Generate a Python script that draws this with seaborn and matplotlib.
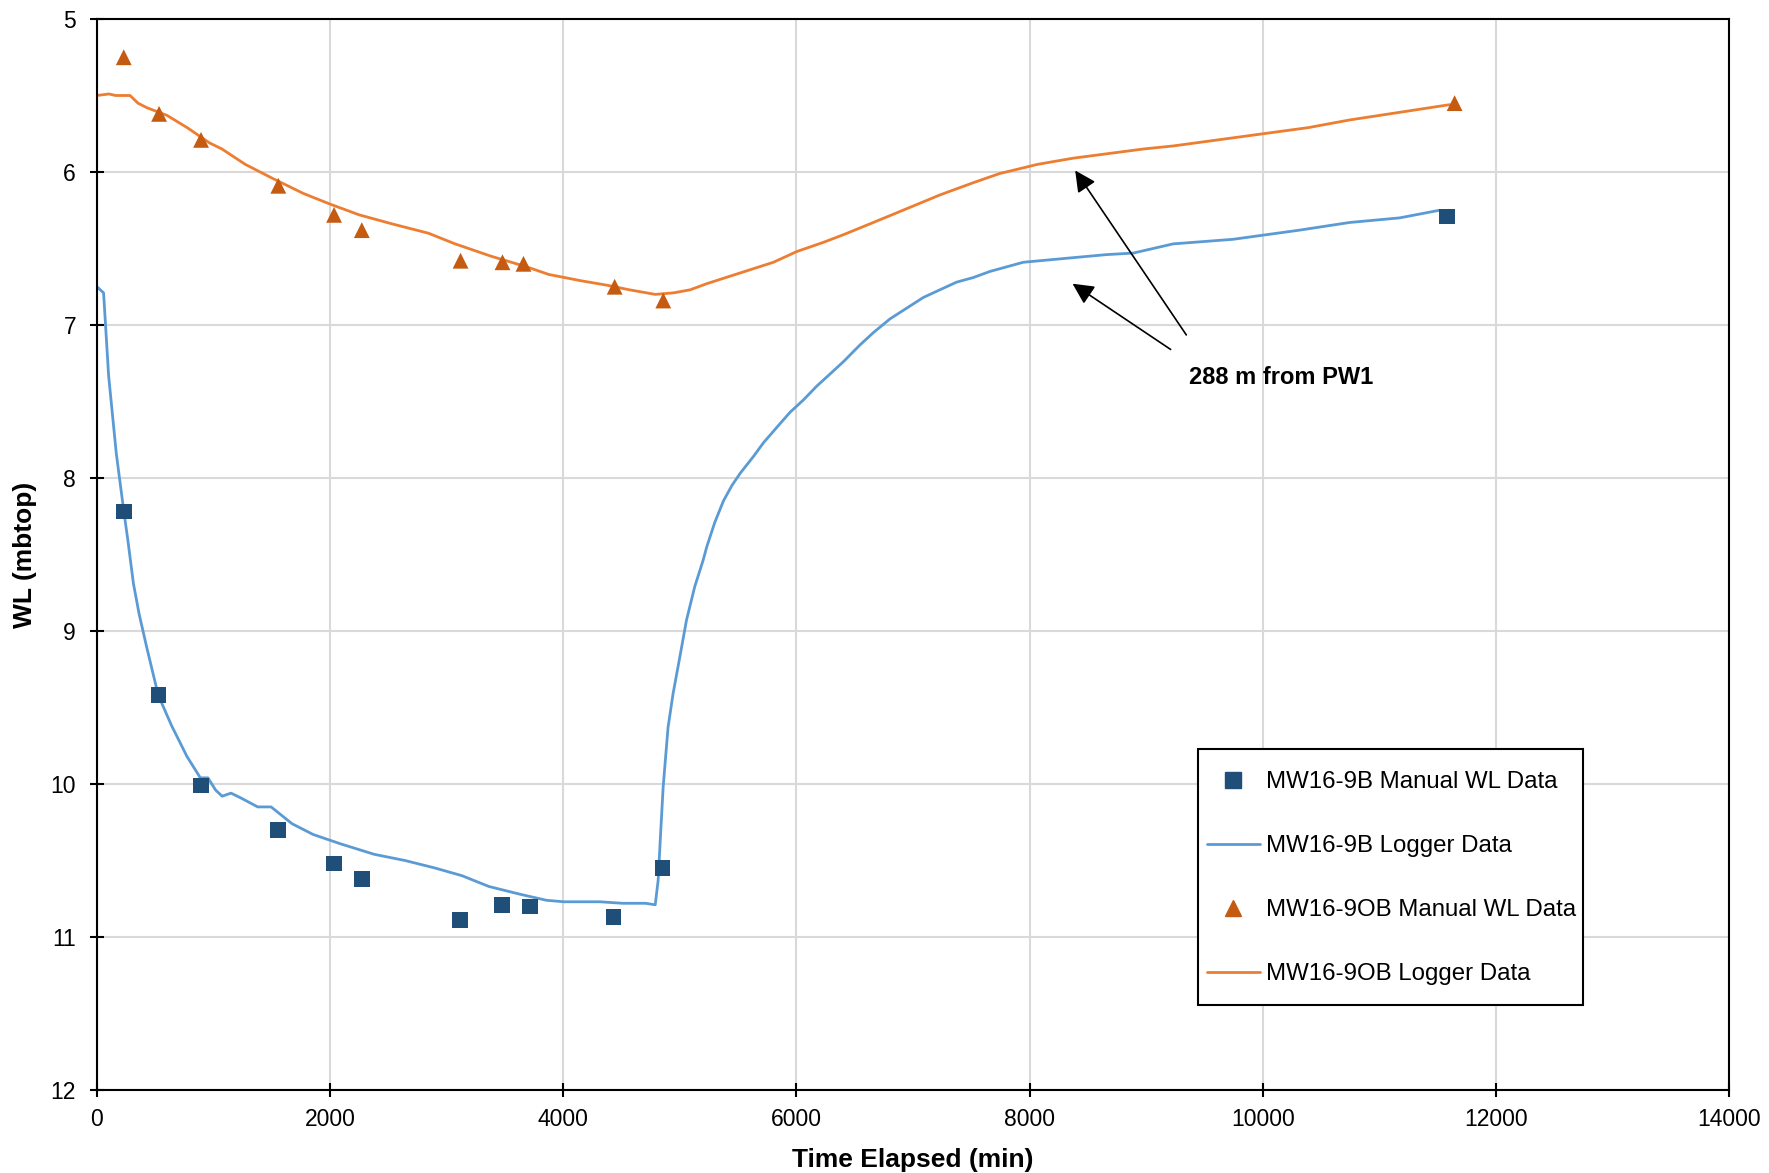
import matplotlib
matplotlib.use("Agg")
import matplotlib.pyplot as plt
import matplotlib.lines as mlines
from matplotlib.patches import Rectangle
import seaborn as sns

# MW16-9B logger record (time in min, water level in mbtop)
b_log_t = [0, 57, 100, 166, 231, 264, 313, 362, 428, 526, 641, 772, 887, 952, 1018, 1074,
           1150, 1231, 1379, 1494, 1674, 1854, 2084, 2379, 2641, 2903, 3133, 3362, 3625,
           3854, 4002, 4313, 4510, 4707, 4789, 4814, 4834, 4857, 4899, 4942, 5000, 5057,
           5128, 5199, 5231, 5300, 5374, 5446, 5517, 5631, 5717, 5831, 5946, 6060, 6174,
           6289, 6403, 6546, 6660, 6803, 6946, 7089, 7231, 7374, 7517, 7660, 7803, 7946,
           8089, 8374, 8660, 8889, 9117, 9230, 9745, 10316, 10745, 11174, 11517]
b_log_wl = [6.75, 6.79, 7.33, 7.84, 8.22, 8.40, 8.69, 8.89, 9.11, 9.42, 9.62, 9.82, 9.96,
            9.96, 10.04, 10.08, 10.06, 10.09, 10.15, 10.15, 10.26, 10.33, 10.39, 10.46,
            10.50, 10.55, 10.60, 10.67, 10.72, 10.76, 10.77, 10.77, 10.78, 10.78, 10.79,
            10.63, 10.34, 10.02, 9.63, 9.41, 9.17, 8.93, 8.71, 8.54, 8.45, 8.29, 8.15, 8.05,
            7.97, 7.86, 7.77, 7.67, 7.57, 7.49, 7.40, 7.32, 7.24, 7.13, 7.05, 6.96, 6.89,
            6.82, 6.77, 6.72, 6.69, 6.65, 6.62, 6.59, 6.58, 6.56, 6.54, 6.53, 6.49, 6.47,
            6.44, 6.38, 6.33, 6.30, 6.25]

# MW16-9OB logger record
ob_log_t = [0, 103, 161, 218, 284, 352, 429, 601, 774, 966, 1073, 1272, 1502, 1770, 2000,
            2249, 2536, 2843, 3073, 3379, 3686, 3877, 4146, 4375, 4567, 4789, 4946, 5089,
            5231, 5517, 5803, 6003, 6231, 6403, 6660, 6946, 7231, 7517, 7744, 8069, 8372,
            8973, 9230, 9617, 10004, 10391, 10745, 11174, 11603]
ob_log_wl = [5.50, 5.49, 5.50, 5.50, 5.50, 5.55, 5.58, 5.63, 5.71, 5.81, 5.85, 5.95, 6.04,
             6.14, 6.21, 6.28, 6.34, 6.40, 6.47, 6.55, 6.62, 6.67, 6.71, 6.74, 6.77, 6.80,
             6.79, 6.77, 6.73, 6.66, 6.59, 6.52, 6.46, 6.41, 6.33, 6.24, 6.15, 6.07, 6.01,
             5.95, 5.91, 5.85, 5.83, 5.79, 5.75, 5.71, 5.66, 5.61, 5.56]

# manual readings
b_man_t = [231, 529, 893, 1552, 2031, 2271, 3113, 3474, 3716, 4431, 4851, 11583]
b_man_wl = [8.22, 9.42, 10.01, 10.30, 10.52, 10.62, 10.89, 10.79, 10.80, 10.87, 10.55, 6.29]
ob_man_t = [230, 533, 893, 1556, 2034, 2272, 3119, 3479, 3659, 4441, 4858, 11646]
ob_man_wl = [5.25, 5.62, 5.79, 6.09, 6.28, 6.38, 6.58, 6.59, 6.60, 6.75, 6.84, 5.55]

labels = ["MW16-9B Manual WL Data", "MW16-9B Logger Data",
          "MW16-9OB Manual WL Data", "MW16-9OB Logger Data"]
x_ticks = list(range(0, 14001, 2000))
y_ticks = list(range(5, 13))

blue_dark = "#1F4E79"
blue_line = "#5B9BD5"
orange_dark = "#C55A11"
orange_line = "#ED7D31"

sns.set_style("whitegrid")
plt.rcParams["font.family"] = ["Liberation Sans", "DejaVu Sans"]
plt.rcParams["text.color"] = "black"
plt.rcParams["axes.labelcolor"] = "black"

fig = plt.figure(figsize=(17.69, 11.73), dpi=100)
ax = fig.add_axes([0.0548, 0.0708, 0.9226, 0.913])

sns.lineplot(x=b_log_t, y=b_log_wl, ax=ax, color=blue_line, lw=2.0, sort=False,
             estimator=None)
sns.lineplot(x=ob_log_t, y=ob_log_wl, ax=ax, color=orange_line, lw=2.0, sort=False,
             estimator=None)
sns.scatterplot(x=b_man_t, y=b_man_wl, ax=ax, marker="s", s=128, color=blue_dark,
                edgecolor="none", zorder=5)
sns.scatterplot(x=ob_man_t, y=ob_man_wl, ax=ax, marker="^", s=130, color=orange_dark,
                edgecolor="none", zorder=5)

ax.set_xlim(0, 14000)
ax.set_ylim(12, 5)
ax.set_xticks(x_ticks)
ax.set_yticks(y_ticks)
ax.grid(True, color="#D9D9D9", lw=1.5)
for sp in ax.spines.values():
    sp.set_color("black")
    sp.set_linewidth(1.5)
ax.tick_params(axis="both", direction="inout", length=10, width=1.5, color="black",
               labelsize=16.5, bottom=True, left=True, labelcolor="black")
ax.tick_params(axis="x", pad=8)
ax.tick_params(axis="y", pad=10)

ax.set_xlabel("Time Elapsed (min)", fontsize=19, fontweight="bold", labelpad=12)
ax.set_ylabel("WL (mbtop)", fontsize=19, fontweight="bold", labelpad=10)

ax.annotate("", xy=(8378, 5.975), xytext=(9358, 7.08),
            arrowprops=dict(arrowstyle="-|>", color="black", lw=1.2, mutation_scale=32))
ax.annotate("", xy=(8349, 6.72), xytext=(9230, 7.17),
            arrowprops=dict(arrowstyle="-|>", color="black", lw=1.2, mutation_scale=32))
ax.text(10160, 7.34, "288 m from PW1", fontsize=17, fontweight="bold",
        ha="center", va="center", color="black")

# legend box drawn separately so the padding can differ per side
box_l, box_r, box_t, box_b = 0.6746, 0.9105, 0.3184, 0.0794
ax.add_patch(Rectangle((box_l, box_b), box_r - box_l, box_t - box_b,
                       transform=ax.transAxes, facecolor="white", edgecolor="black",
                       lw=1.5, zorder=6))
handles = [
    mlines.Line2D([], [], ls="none", marker="s", ms=11, color=blue_dark),
    mlines.Line2D([], [], color=blue_line, lw=2.0),
    mlines.Line2D([], [], ls="none", marker="^", ms=11, color=orange_dark),
    mlines.Line2D([], [], color=orange_line, lw=2.0),
]
leg = ax.legend(handles, labels, loc="upper left", bbox_to_anchor=(0.6801, 0.2979),
                borderaxespad=0, fontsize=17.3, labelspacing=1.75, borderpad=0,
                handlelength=2.2, handletextpad=0.25, frameon=False, labelcolor="black")
leg.set_zorder(7)

fig.savefig("out.png", dpi=100)
